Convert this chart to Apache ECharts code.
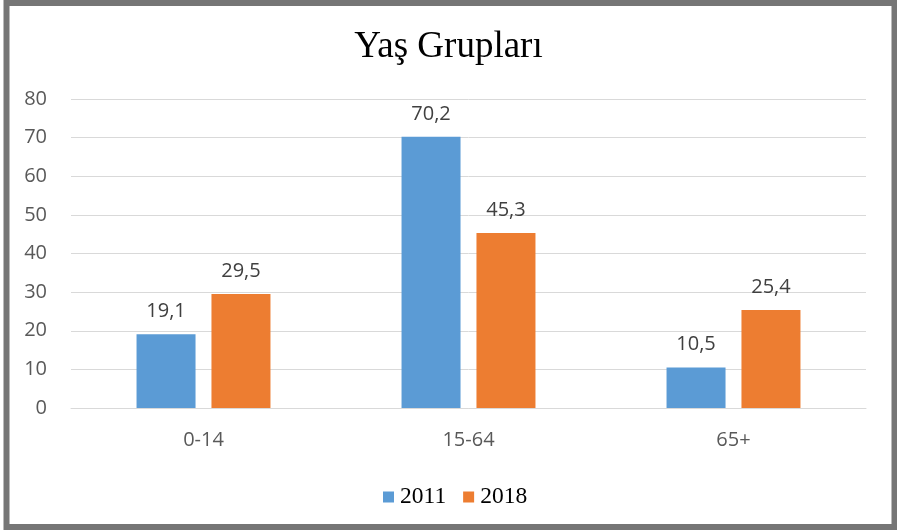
<!DOCTYPE html>
<html><head><meta charset="utf-8">
<script src="https://cdn.jsdelivr.net/npm/echarts@6/dist/echarts.min.js"></script>
<style>html,body{margin:0;padding:0;background:#fff}#c{width:897px;height:531px}</style>
</head><body><div id="c"></div>
<script>
const categories = ['0-14', '15-64', '65+'];
const seriesNames = ['2011', '2018'];
const values2011 = [19.1, 70.2, 10.5];
const values2018 = [29.5, 45.3, 25.4];
const colors = ['#5B9BD5', '#ED7D31'];

const chart = echarts.init(document.getElementById('c'));
const fmt = p => String(p.value).replace('.', ',');
const mkSeries = (name, data, color) => ({
  name, type: 'bar', data, barWidth: 59, barGap: '27%',
  itemStyle: {color},
  label: {show: true, position: 'top', distance: 13, formatter: fmt,
    fontFamily: 'Open Sans', fontSize: 20, color: '#404040'}
});
chart.setOption({
  animation: false,
  title: {text: 'Yaş Grupları', left: 'center', top: 24,
    textStyle: {fontFamily: 'Liberation Serif', fontSize: 37, fontWeight: 'normal', color: '#000'}},
  graphic: [{type: 'rect', shape: {x: 6.5, y: 3, width: 888, height: 524},
    style: {fill: 'none', stroke: '#767676', lineWidth: 6}, z: 100}],
  legend: {top: 480, left: 378, itemWidth: 11, itemHeight: 11, itemGap: 17,
    icon: 'rect', textStyle: {fontFamily: 'Liberation Serif', fontSize: 23.5, color: '#000', padding: [0,0,0,1]}},
  grid: {left: 71, right: 31, top: 99, bottom: 123},
  xAxis: {type: 'category', data: categories,
    axisLine: {lineStyle: {color: '#D9D9D9', width: 1}}, axisTick: {show: false},
    axisLabel: {fontFamily: 'Open Sans', fontSize: 20, color: '#595959', margin: 22}},
  yAxis: {type: 'value', min: 0, max: 80, interval: 10,
    axisLine: {show: false}, axisTick: {show: false},
    splitLine: {lineStyle: {color: '#D9D9D9', width: 1}},
    axisLabel: {fontFamily: 'Open Sans', fontSize: 20, color: '#595959', margin: 24}},
  series: [mkSeries(seriesNames[0], values2011, colors[0]), mkSeries(seriesNames[1], values2018, colors[1])]
});
</script></body></html>
